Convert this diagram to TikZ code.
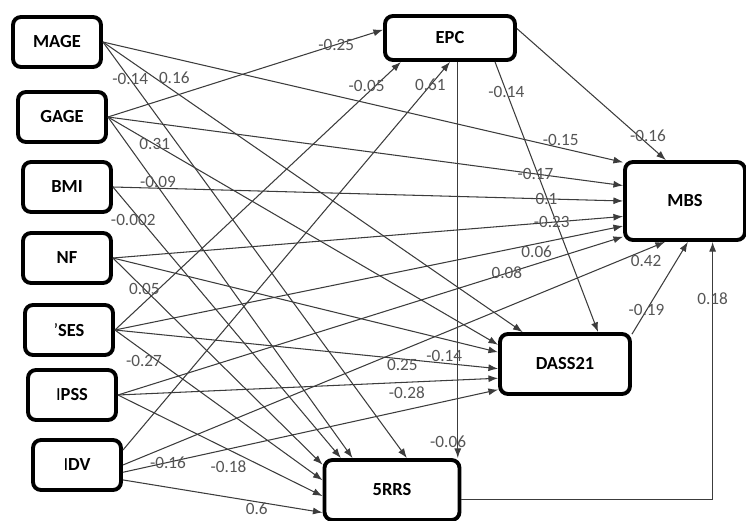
\documentclass[tikz,border=0pt]{standalone}
\usepackage{fontspec}
\setmainfont{Carlito}
\usetikzlibrary{positioning,arrows.meta,calc}

\definecolor{linegray}{RGB}{60,60,60}
\definecolor{lblgray}{RGB}{85,85,85}

\begin{document}
\begin{tikzpicture}[x=0.02cm, y=-0.02cm,
    var/.style={draw=black, line width=2.2pt, rounded corners=4.5pt, fill=white,
        minimum width=1.76cm, minimum height=1cm, font=\fontsize{10.5}{12}\selectfont\bfseries},
    link/.style={draw=linegray, line width=0.6pt, -{Latex[length=5.5pt,width=4pt]}},
    lbl/.style={font=\fontsize{9.8}{11}\selectfont, text=lblgray, inner sep=1pt}]
    \useasboundingbox (0,0) rectangle (746,520);

    % exogenous variables
    \node[var] at (57,42) (Mage) {MAGE\hspace{7pt}};
    \node[var] at (62,117) (Gage) {GAGE\hspace{13.5pt}};
    \node[var] at (67,187) (Bmi) {BMI\hspace{8pt}};
    \node[var] at (67,258) (Nf) {NF};
    \node[var] at (69,330) (Ses) {{\mdseries '}SES};
    \node[var] at (72,395) (Ipss) {{\mdseries I}PSS};
    \node[var] at (77,465) (Idv) {{\mdseries I}DV};

    % outcomes
    \node[var, minimum width=2.6cm, minimum height=0.88cm] at (450,38) (Epc) {EPC\hspace{7pt}};
    \node[var, minimum width=2.4cm, minimum height=1.56cm] at (685,201) (Mbs) {MBS};
    \node[var, minimum width=2.6cm, minimum height=1.2cm] at (565,364) (Dass) {DASS21};
    \node[var, minimum width=2.7cm, minimum height=1.2cm] at (392,490) (Rrs) {5RRS};

    % into EPC
    \draw[link] (Gage.east) -- (Epc.173) node[lbl,pos=0.83] {-0.25};
    \draw[link] (Ses.east) -- (Epc.-154) node[lbl,pos=0.88,above] {-0.05};
    \draw[link] (Idv.18) -- (Epc.-90) node[lbl,pos=0.94] {0.61};

    % from EPC
    \draw[link] (Epc.8) -- (Mbs.115) node[lbl,pos=0.88,above] {-0.16};
    \draw[link] (Epc.-28) -- (Dass.44) node[lbl,pos=0.11] {-0.14};
    \draw[link] (Epc.-72) -- (Epc.-72 |- Rrs.north) node[lbl,pos=0.96,xshift=-5.5pt] {-0.06};

    % DASS21 and 5RRS into MBS
    \draw[link] (Dass.24) -- (Mbs.-86) node[lbl,pos=0.26] {-0.19};
    \draw[link] (Rrs.-8) -| (Mbs.-56) node[lbl,pos=0.89] {0.18};

    % MAGE
    \draw[link] (Mage.east) -- (Mbs.148) node[lbl,pos=0.88,above] {-0.15};
    \draw[link] (Mage.east) -- (Dass.143) node[lbl,pos=0.17,above=3pt] {0.16};
    \draw[link] (Mage.east) -- (Rrs.65) node[lbl,pos=0.09] {-0.14};

    % GAGE
    \draw[link] (Gage.east) -- (Mbs.166) node[lbl,pos=0.83] {-0.17};
    \draw[link] (Gage.east) -- (Dass.164) node[lbl,pos=0.12] {0.31};
    \draw[link] (Gage.east) -- (Rrs.141) node[lbl,pos=0.19,xshift=2pt] {-0.09};

    % BMI
    \draw[link] (Bmi.east) -- (Mbs.180) node[lbl,pos=0.85] {0.1};
    \draw[link] (Bmi.east) -- (Rrs.148) node[lbl,pos=0.12,xshift=-4pt] {-0.002};

    % NF
    \draw[link] (Nf.east) -- (Mbs.-166) node[lbl,pos=0.86] {-0.23};
    \draw[link] (Nf.east) -- (Dass.170) node[lbl,pos=0.86,below=5pt] {-0.14};
    \draw[link] (Nf.east) -- (Rrs.160) node[lbl,pos=0.15] {0.05};

    % SES
    \draw[link] (Ses.east) -- (Mbs.-158) node[lbl,pos=0.83,below] {0.06};
    \draw[link] (Ses.east) -- (Dass.-176) node[lbl,pos=0.75,below=-1pt] {0.25};
    \draw[link] (Ses.east) -- (Rrs.172) node[lbl,pos=0.14,below=1pt] {-0.27};

    % IPSS
    \draw[link] (Ipss.east) -- (Mbs.-150) node[lbl,pos=0.77] {0.08};
    \draw[link] (Ipss.east) -- (Dass.-168) node[lbl,pos=0.76,below=1pt] {-0.28};
    \draw[link] (Ipss.east) -- (Rrs.-175) node[lbl,pos=0.54,below=5pt] {-0.18};

    % IDV
    \draw[link] (Idv.east) -- (Mbs.-116) node[lbl,pos=0.965,below=2pt] {0.42};
    \draw[link] (Idv.-9) -- (Dass.-159) node[lbl,pos=0.12] {-0.16};
    \draw[link] (Idv.-18) -- (Rrs.-162) node[lbl,pos=0.67,below=-0.5pt] {0.6};
\end{tikzpicture}
\end{document}
